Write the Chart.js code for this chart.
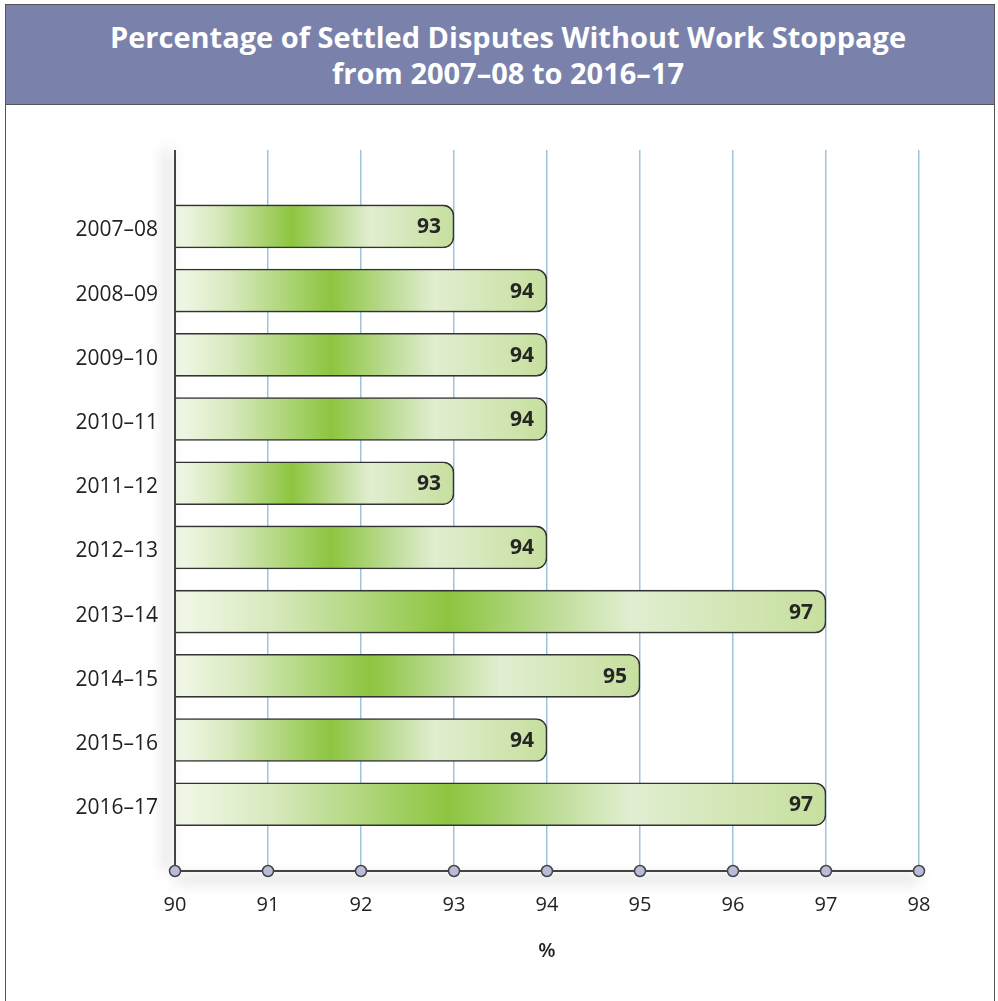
<!DOCTYPE html>
<html>
<head>
<meta charset="utf-8">
<script src="https://cdn.jsdelivr.net/npm/chart.js@4.4.0/dist/chart.umd.min.js"></script>
<style>
  html, body { margin: 0; padding: 0; background: #fff; }
  body { width: 998px; height: 1001px; position: relative; overflow: hidden; }
  #frame {
    position: absolute; left: 5px; top: 4px; width: 990px; height: 1010px;
    border: 1.5px solid #555; box-sizing: border-box;
  }
  #header {
    position: absolute; left: 0; top: 0; right: 0; height: 100px;
    background: #7a82ab; border-bottom: 1.5px solid #555; box-sizing: border-box;
    color: #fff; font-family: "Open Sans", sans-serif; font-weight: 700;
    font-size: 29px; line-height: 36px; text-align: center;
    padding-top: 14px; padding-left: 16px;
  }
  #wrap { position: absolute; left: 0; top: 105px; width: 998px; height: 896px; }
</style>
</head>
<body>
<div id="frame">
  <div id="header">Percentage of Settled Disputes Without Work Stoppage<br>from 2007–08 to 2016–17</div>
</div>
<div id="wrap"><canvas id="chart" width="998" height="896"></canvas></div>
<script>
// Données
const categories = ["2007–08", "2008–09", "2009–10", "2010–11", "2011–12",
                    "2012–13", "2013–14", "2014–15", "2015–16", "2016–17"];
const values = [93, 94, 94, 94, 93, 94, 97, 95, 94, 97];
const xMin = 90;
const xMax = 98;
const axisTitle = "%";

const FONT = "'Open Sans', sans-serif";

// dégradé vert horizontal sur chaque barre
function barGradient(ctx) {
  const chart = ctx.chart;
  const x = chart.scales.x;
  if (!x || ctx.type !== "data" || !chart.chartArea) return "#b5d68a";
  const x0 = x.getPixelForValue(xMin);
  const x1 = x.getPixelForValue(ctx.raw.x);
  const g = chart.ctx.createLinearGradient(x0, 0, x1, 0);
  g.addColorStop(0, "#f3f8ea");
  g.addColorStop(0.15, "#d7e9bd");
  g.addColorStop(0.42, "#8cc53f");
  g.addColorStop(0.56, "#b7d98c");
  g.addColorStop(0.70, "#e1eed1");
  g.addColorStop(1, "#c6df9d");
  return g;
}

// axes, ronds de graduation et étiquettes de valeur
const axesPlugin = {
  id: "axesPlugin",
  afterDatasetsDraw(chart) {
    const { ctx, chartArea: a, scales: { x } } = chart;
    ctx.save();
    // ombres
    ctx.shadowColor = "rgba(0,0,0,0.5)";
    ctx.shadowBlur = 14;
    ctx.strokeStyle = "#444";
    ctx.lineWidth = 2;
    ctx.shadowOffsetX = 0;
    ctx.shadowOffsetY = 8;
    ctx.beginPath();
    ctx.moveTo(a.left, a.bottom);
    ctx.lineTo(a.right, a.bottom);
    ctx.stroke();
    ctx.shadowOffsetX = -8;
    ctx.shadowOffsetY = 0;
    ctx.beginPath();
    ctx.moveTo(a.left, a.top);
    ctx.lineTo(a.left, a.bottom);
    ctx.stroke();
    ctx.restore();

    ctx.save();
    for (let v = xMin; v <= xMax; v++) {
      const px = x.getPixelForValue(v);
      ctx.beginPath();
      ctx.arc(px, a.bottom, 5.5, 0, Math.PI * 2);
      ctx.fillStyle = "#b9bcd9";
      ctx.fill();
      ctx.lineWidth = 1.5;
      ctx.strokeStyle = "#444";
      ctx.stroke();
    }
    // valeurs dans les barres
    const meta = chart.getDatasetMeta(0);
    ctx.font = "bold 21px " + FONT;
    ctx.fillStyle = "#262626";
    ctx.textAlign = "right";
    ctx.textBaseline = "middle";
    meta.data.forEach((bar, i) => {
      ctx.fillText(String(values[i]), bar.x - 13, bar.y + 1);
    });
    ctx.restore();
  }
};

new Chart(document.getElementById("chart"), {
  type: "bar",
  data: {
    datasets: [{
      data: values.map((v, i) => ({ x: v, y: i })),
      backgroundColor: barGradient,
      borderColor: "#333",
      borderWidth: 1.6,
      borderRadius: 11,
      barThickness: 43,
    }]
  },
  options: {
    indexAxis: "y",
    responsive: false,
    animation: false,
    events: [],
    layout: { padding: { left: 0, right: 79, top: 45, bottom: 0 } },
    plugins: { legend: { display: false }, tooltip: { enabled: false } },
    scales: {
      x: {
        type: "linear",
        min: xMin,
        max: xMax,
        ticks: { stepSize: 1, padding: 22, color: "#222", font: { family: FONT, size: 20 } },
        grid: {
          color: (c) => c.tick && c.tick.value === xMin ? "rgba(0,0,0,0)" : "#9ec3da",
          lineWidth: 1.5,
          drawTicks: false,
        },
        border: { display: false },
        title: {
          display: true, text: axisTitle, color: "#222",
          font: { family: FONT, size: 20, weight: "600" },
          padding: { top: 0, bottom: 38 },
        },
        afterFit(axis) { axis.height = 130; },
      },
      y: {
        type: "linear",
        reverse: true,
        offset: false,
        min: -1.19,
        max: 10.04,
        grid: { display: false, offset: false },
        border: { display: false },
        afterBuildTicks(axis) { axis.ticks = categories.map((_, i) => ({ value: i })); },
        ticks: {
          padding: 9, labelOffset: 4, color: "#222", font: { family: FONT, size: 21 },
          callback: (v) => categories[v],
        },
        afterFit(axis) { axis.width = 175; },
      }
    }
  },
  plugins: [axesPlugin]
});
</script>
</body>
</html>
